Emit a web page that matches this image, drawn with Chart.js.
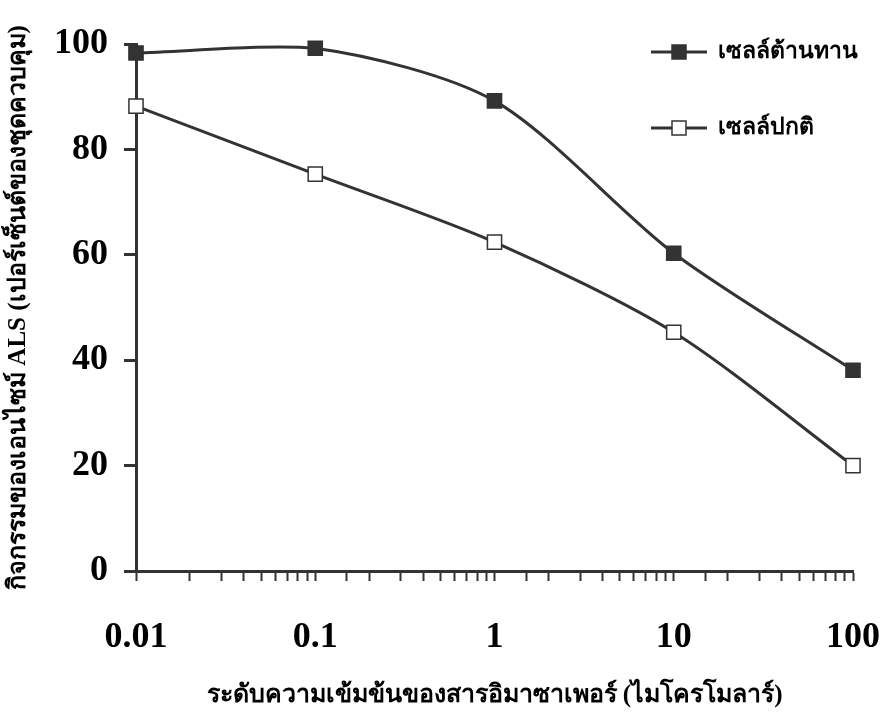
<!DOCTYPE html>
<html>
<head>
<meta charset="utf-8">
<script src="https://cdn.jsdelivr.net/npm/chart.js@4/dist/chart.umd.min.js"></script>
<style>
  html, body { margin: 0; padding: 0; background: #fff; }
  #wrap { width: 881px; height: 717px; }
</style>
</head>
<body>
<div id="wrap"><canvas id="c" width="881" height="717"></canvas></div>
<script>
// ความเข้มข้น (ไมโครโมลาร์)
const concentrations = [0.01, 0.1, 1, 10, 100];
const resistantValues = [98.3, 99.2, 89.2, 60.3, 38.1];
const normalValues = [88.2, 75.3, 62.4, 45.3, 20];
const xTickLabels = ['0.01', '0.1', '1', '10', '100'];
const seriesNames = ['เซลล์ต้านทาน', 'เซลล์ปกติ'];

const ink = '#333333';
const fontFamily = "'Liberation Serif', serif";

// legend แบบมีเส้นผ่านสัญลักษณ์
const lineLegend = {
    id: 'lineLegend',
    afterDraw(chart) {
        const ctx = chart.ctx;
        ctx.save();
        chart.data.datasets.forEach((ds, i) => {
            const y = 52 + i * 76;
            ctx.strokeStyle = ink;
            ctx.lineWidth = 3;
            ctx.beginPath();
            ctx.moveTo(651, y);
            ctx.lineTo(707, y);
            ctx.stroke();
            ctx.fillStyle = ds.pointBackgroundColor;
            ctx.lineWidth = 1.5;
            ctx.fillRect(672, y - 7, 14, 14);
            ctx.strokeRect(672, y - 7, 14, 14);
            ctx.fillStyle = '#000';
            ctx.font = "bold 23px " + fontFamily;
            ctx.textBaseline = 'middle';
            ctx.fillText(ds.label, 718, y);
        });
        ctx.restore();
    }
};

const toPoints = vals => vals.map((v, i) => ({ x: concentrations[i], y: v }));

new Chart(document.getElementById('c').getContext('2d'), {
    type: 'line',
    data: {
        datasets: [
            {
                label: seriesNames[0],
                data: toPoints(resistantValues),
                borderColor: ink,
                borderWidth: 3,
                pointStyle: 'rect',
                pointRadius: 10,
                pointBackgroundColor: ink,
                pointBorderColor: ink,
                pointBorderWidth: 1.5,
                tension: 0.28,
                clip: false
            },
            {
                label: seriesNames[1],
                data: toPoints(normalValues),
                borderColor: ink,
                borderWidth: 3,
                pointStyle: 'rect',
                pointRadius: 10,
                pointBackgroundColor: '#ffffff',
                pointBorderColor: ink,
                pointBorderWidth: 1.5,
                tension: 0.28,
                clip: false
            }
        ]
    },
    options: {
        responsive: false,
        animation: false,
        layout: { padding: { top: 44, right: 28, left: 0, bottom: 0 } },
        plugins: {
            legend: { display: false },
            tooltip: { enabled: false }
        },
        scales: {
            x: {
                type: 'logarithmic',
                min: 0.01,
                max: 100,
                afterFit(scale) {
                    scale.height = 146;
                    scale.paddingLeft = 0;
                    scale.paddingRight = 0;
                },
                border: { color: ink, width: 3 },
                grid: { drawOnChartArea: false, drawTicks: true, tickLength: 10, color: ink, tickWidth: 2 },
                ticks: {
                    color: '#000',
                    padding: 35,
                    autoSkip: false,
                    maxRotation: 0,
                    font: { family: fontFamily, size: 36, weight: 'bold' },
                    callback(value) {
                        const idx = concentrations.indexOf(value);
                        return idx >= 0 ? xTickLabels[idx] : '';
                    }
                },
                title: {
                    display: true,
                    text: 'ระดับความเข้มข้นของสารอิมาซาเพอร์ (ไมโครโมลาร์)',
                    color: '#000',
                    font: { family: fontFamily, size: 25, weight: 'bold' },
                    padding: { top: 0, bottom: 6 }
                }
            },
            y: {
                min: 0,
                max: 100,
                afterFit(scale) { scale.width = 136; },
                border: { color: ink, width: 3 },
                grid: { drawOnChartArea: false, drawTicks: true, tickLength: 12, color: ink, tickWidth: 3 },
                ticks: {
                    stepSize: 20,
                    color: '#000',
                    padding: 16,
                    font: { family: fontFamily, size: 36, weight: 'bold' }
                },
                title: {
                    display: true,
                    text: 'กิจกรรมของเอนไซม์ ALS (เปอร์เซ็นต์ของชุดควบคุม)',
                    color: '#000',
                    font: { family: fontFamily, size: 25, weight: 'bold' },
                    padding: { top: 4, bottom: 0 }
                }
            }
        }
    },
    plugins: [lineLegend]
});
</script>
</body>
</html>
